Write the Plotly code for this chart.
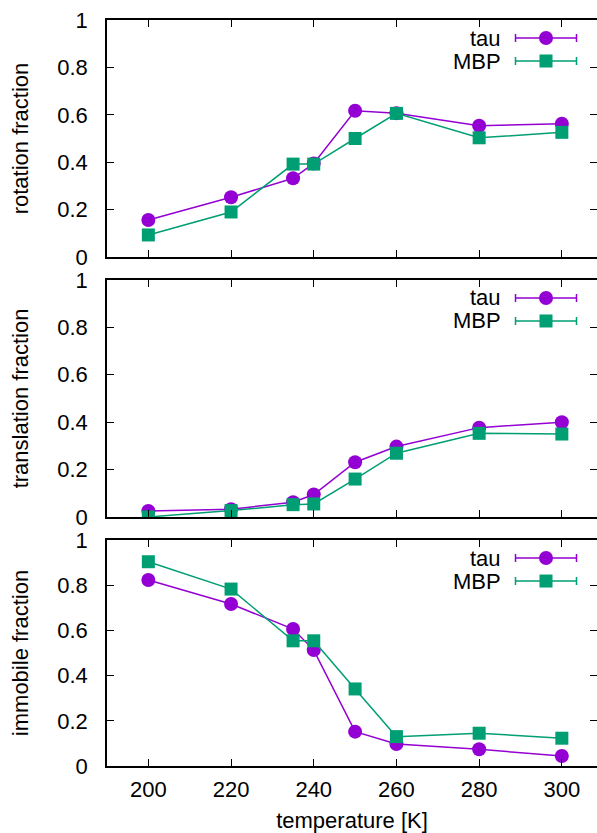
import plotly.graph_objects as go

temperature = [200, 220, 235, 240, 250, 260, 280, 300]

rot_tau = [0.156, 0.252, 0.332, 0.395, 0.617, 0.607, 0.554, 0.562]
rot_mbp = [0.093, 0.190, 0.392, 0.392, 0.500, 0.606, 0.503, 0.526]

tra_tau = [0.025, 0.033, 0.062, 0.095, 0.231, 0.297, 0.377, 0.400]
tra_mbp = [0.000, 0.027, 0.052, 0.055, 0.160, 0.269, 0.353, 0.350]

imm_tau = [0.823, 0.717, 0.606, 0.513, 0.152, 0.097, 0.074, 0.044]
imm_mbp = [0.904, 0.783, 0.554, 0.554, 0.341, 0.130, 0.145, 0.123]

ylabels = ["rotation fraction", "translation fraction", "immobile fraction"]
series_names = ["tau", "MBP"]
xticks = [200, 220, 240, 260, 280, 300]

PURPLE = "#9400D3"
GREEN = "#009E73"
FONT = "Liberation Sans, Arial, sans-serif"
FS = 22

XR = [190, 308.5]
YR = [0, 1]

fig = go.Figure()

panels = [(rot_tau, rot_mbp), (tra_tau, tra_mbp), (imm_tau, imm_mbp)]
domains = [[0.6823, 1.0], [0.3338, 0.6515], [0.0, 0.3029]]
heights = [237, 237, 226]

styles = [(PURPLE, "circle"), (GREEN, "square")]

for i, (tau, mbp) in enumerate(panels):
    xa = "x" if i == 0 else f"x{i+1}"
    ya = "y" if i == 0 else f"y{i+1}"
    for vals, (col, sym) in zip((tau, mbp), styles):
        fig.add_trace(go.Scatter(
            x=temperature, y=vals, mode="lines+markers",
            line=dict(color=col, width=1.5),
            marker=dict(color=col, symbol=sym, size=14 if sym == "circle" else 13),
            xaxis=xa, yaxis=ya, showlegend=False, hoverinfo="skip"))
    # legend keys (gnuplot-like errorbar sample)
    h = heights[i]
    for k, ((col, sym), name) in enumerate(zip(styles, series_names)):
        ypix = 18 + 23 * k  # pixels from top of panel
        yv = 1 - ypix / h
        xc = XR[0] + (546 - 107) / (597 - 107) * (XR[1] - XR[0])
        half = (577 - 516) / 2 / (597 - 107) * (XR[1] - XR[0])
        fig.add_trace(go.Scatter(
            x=[xc], y=[yv], mode="markers",
            marker=dict(color=col, symbol=sym, size=14 if sym == "circle" else 13),
            error_x=dict(type="constant", value=half, color=col, thickness=1.5, width=4),
            xaxis=xa, yaxis=ya, showlegend=False, hoverinfo="skip"))
        fig.add_annotation(
            x=XR[0] + (503 - 107) / (597 - 107) * (XR[1] - XR[0]), y=yv,
            xref=xa, yref=ya, text=name, showarrow=False,
            xanchor="right", yanchor="middle",
            font=dict(family=FONT, size=FS, color="black"))

axis_common = dict(
    showline=True, linecolor="black", linewidth=1.5, mirror="ticks",
    ticks="inside", ticklen=7, tickwidth=1, tickcolor="black",
    showgrid=False, zeroline=False,
    tickfont=dict(family=FONT, size=FS, color="black"),
)

for i in range(3):
    xkey = "xaxis" if i == 0 else f"xaxis{i+1}"
    ykey = "yaxis" if i == 0 else f"yaxis{i+1}"
    yanchor = "y" if i == 0 else f"y{i+1}"
    xanchor = "x" if i == 0 else f"x{i+1}"
    fig.layout[xkey] = dict(
        axis_common, range=XR, tickvals=xticks, anchor=yanchor,
        showticklabels=(i == 2), ticklabelstandoff=3,
        title=dict(text="temperature [K]" if i == 2 else "",
                   font=dict(family=FONT, size=FS, color="black"), standoff=15),
    )
    fig.layout[ykey] = dict(
        axis_common, range=YR, tickvals=[0, 0.2, 0.4, 0.6, 0.8, 1],
        ticktext=["0", "0.2", "0.4", "0.6", "0.8", "1"],
        domain=domains[i], anchor=xanchor, ticklabelstandoff=13,
        title=dict(text=ylabels[i], font=dict(family=FONT, size=FS, color="black"),
                   standoff=23),
    )

fig.update_layout(
    width=597, height=833,
    margin=dict(l=107, r=0, t=20, b=67, autoexpand=False),
    paper_bgcolor="white", plot_bgcolor="white",
    font=dict(family=FONT, size=FS, color="black"),
)

fig.write_html("out.html")
